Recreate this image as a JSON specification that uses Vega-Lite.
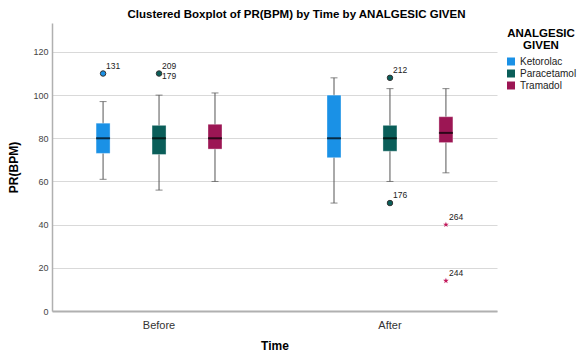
{
  "$schema": "https://vega.github.io/schema/vega-lite/v6.json",
  "width": 445,
  "height": 288,
  "autosize": {"type": "none"},
  "padding": {"left": 52, "top": 23, "right": 84, "bottom": 43},
  "background": "white",
  "config": {"font": "Liberation Sans", "view": {"stroke": null}},
  "title": {
    "text": "Clustered Boxplot of PR(BPM) by Time by ANALGESIC GIVEN",
    "fontSize": 11.5,
    "fontWeight": "bold",
    "color": "#000",
    "anchor": "middle",
    "dx": 22,
    "offset": 3
  },
  "datasets": {
    "boxes": [
      {"time": "Before", "group": "Ketorolac", "lower": 61, "q1": 73, "median": 80, "q3": 87, "upper": 97},
      {"time": "Before", "group": "Paracetamol", "lower": 56, "q1": 72.5, "median": 80, "q3": 86, "upper": 100},
      {"time": "Before", "group": "Tramadol", "lower": 60, "q1": 75, "median": 80, "q3": 86.5, "upper": 101},
      {"time": "After", "group": "Ketorolac", "lower": 50, "q1": 71, "median": 80, "q3": 100, "upper": 108},
      {"time": "After", "group": "Paracetamol", "lower": 60, "q1": 74, "median": 80, "q3": 86, "upper": 103},
      {"time": "After", "group": "Tramadol", "lower": 64, "q1": 78, "median": 82.5, "q3": 90, "upper": 103}
    ],
    "outliers": [
      {"time": "Before", "group": "Ketorolac", "value": 110, "label": ["131"], "kind": "outlier"},
      {"time": "Before", "group": "Paracetamol", "value": 110, "label": ["209", "179"], "kind": "outlier"},
      {"time": "After", "group": "Paracetamol", "value": 108, "label": ["212"], "kind": "outlier"},
      {"time": "After", "group": "Paracetamol", "value": 50, "label": ["176"], "kind": "outlier"},
      {"time": "After", "group": "Tramadol", "value": 40, "label": ["264"], "kind": "extreme"},
      {"time": "After", "group": "Tramadol", "value": 14, "label": ["244"], "kind": "extreme"}
    ]
  },
  "encoding": {
    "x": {
      "field": "time",
      "type": "nominal",
      "sort": ["Before", "After"],
      "title": "Time",
      "scale": {"paddingInner": 0.273, "paddingOuter": 0.1},
      "axis": {
        "domainColor": "#b0b0b0",
        "domainWidth": 2,
        "ticks": false,
        "grid": false,
        "labelAngle": 0,
        "labelFontSize": 11,
        "labelColor": "#333",
        "labelPadding": 8,
        "titleFontSize": 12,
        "titleFontWeight": "bold",
        "titleColor": "#000",
        "titlePadding": 10
      }
    },
    "xOffset": {
      "field": "group",
      "type": "nominal",
      "sort": ["Ketorolac", "Paracetamol", "Tramadol"],
      "scale": {"paddingInner": 0, "paddingOuter": 0}
    }
  },
  "layer": [
    {
      "data": {"name": "boxes"},
      "mark": {"type": "rule", "color": "#555", "strokeWidth": 1},
      "encoding": {
        "y": {
          "field": "lower",
          "type": "quantitative",
          "title": "PR(BPM)",
          "scale": {"domain": [0, 133.4], "nice": false, "zero": true},
          "axis": {
            "values": [0, 20, 40, 60, 80, 100, 120],
            "domainColor": "#b0b0b0",
            "domainWidth": 1.5,
            "ticks": false,
            "labelFontSize": 9,
            "labelColor": "#444",
            "labelPadding": 4,
            "gridColor": "#d9d9d9",
            "titleFontSize": 12,
            "titleFontWeight": "bold",
            "titleColor": "#000",
            "titlePadding": 12
          }
        },
        "y2": {"field": "upper"}
      }
    },
    {
      "data": {"name": "boxes"},
      "mark": {"type": "tick", "color": "#555", "size": 7, "thickness": 1},
      "encoding": {"y": {"field": "lower", "type": "quantitative", "title": "PR(BPM)"}}
    },
    {
      "data": {"name": "boxes"},
      "mark": {"type": "tick", "color": "#555", "size": 7, "thickness": 1},
      "encoding": {"y": {"field": "upper", "type": "quantitative", "title": "PR(BPM)"}}
    },
    {
      "data": {"name": "boxes"},
      "mark": {"type": "bar", "width": 14, "stroke": "white", "strokeOpacity": 0.35, "strokeWidth": 1, "opacity": 1},
      "encoding": {
        "y": {"field": "q1", "type": "quantitative", "title": "PR(BPM)"},
        "y2": {"field": "q3"},
        "color": {
          "field": "group",
          "type": "nominal",
          "scale": {"domain": ["Ketorolac", "Paracetamol", "Tramadol"], "range": ["#1A91E6", "#0A5E59", "#9C1654"]},
          "legend": {
            "title": ["ANALGESIC", "GIVEN"],
            "orient": "none",
            "legendX": 454,
            "legendY": 5,
            "symbolType": "square",
            "symbolSize": 64,
            "symbolStrokeWidth": 0,
            "symbolOpacity": 1,
            "labelFontSize": 10,
            "labelColor": "#222",
            "labelOffset": 4,
            "rowPadding": 2,
            "titleFontSize": 11.5,
            "titleFontWeight": "bold",
            "titleColor": "#000",
            "titleAlign": "center",
            "titleAnchor": "middle",
            "titleLineHeight": 12,
            "titlePadding": 5
          }
        }
      }
    },
    {
      "data": {"name": "boxes"},
      "mark": {"type": "tick", "color": "#000", "size": 14, "thickness": 2},
      "encoding": {"y": {"field": "median", "type": "quantitative", "title": "PR(BPM)"}}
    },
    {
      "data": {"name": "outliers"},
      "transform": [{"filter": "datum.kind === 'outlier'"}],
      "mark": {"type": "point", "filled": true, "stroke": "#333", "strokeWidth": 1, "size": 30, "opacity": 1},
      "encoding": {
        "y": {"field": "value", "type": "quantitative", "title": "PR(BPM)"},
        "fill": {
          "field": "group",
          "type": "nominal",
          "scale": {"domain": ["Ketorolac", "Paracetamol", "Tramadol"], "range": ["#1A91E6", "#0A5E59", "#9C1654"]},
          "legend": null
        }
      }
    },
    {
      "data": {"name": "outliers"},
      "transform": [{"filter": "datum.kind === 'extreme'"}],
      "mark": {"type": "point", "shape": "M0,-1L0.2245,-0.309L0.9511,-0.309L0.3633,0.118L0.5878,0.809L0,0.382L-0.5878,0.809L-0.3633,0.118L-0.9511,-0.309L-0.2245,-0.309Z", "filled": true, "fill": "#C2185B", "strokeWidth": 0, "size": 36, "opacity": 1},
      "encoding": {"y": {"field": "value", "type": "quantitative", "title": "PR(BPM)"}}
    },
    {
      "data": {"name": "outliers"},
      "mark": {"type": "text", "align": "left", "baseline": "middle", "dx": 3, "dy": -8, "fontSize": 8.5, "fill": "#222", "lineHeight": 10.5},
      "encoding": {
        "y": {"field": "value", "type": "quantitative", "title": "PR(BPM)"},
        "text": {"field": "label", "type": "nominal"}
      }
    }
  ]
}
